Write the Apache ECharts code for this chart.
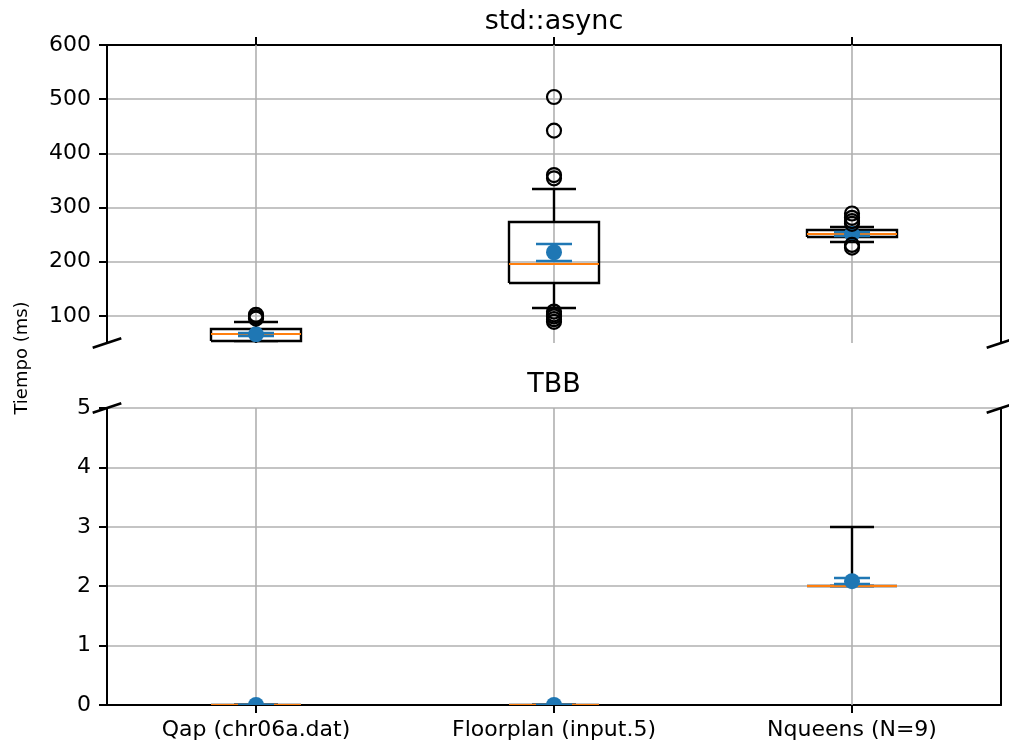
<!DOCTYPE html>
<html>
<head>
<meta charset="utf-8">
<script src="https://cdn.jsdelivr.net/npm/echarts@6/dist/echarts.min.js"></script>
<style>
html, body { margin: 0; padding: 0; background: #fff; }
#chart { width: 1009px; height: 749px; }
</style>
</head>
<body>
<div id="chart"></div>
<script>
// Benchmarks
const categories = ['Qap (chr06a.dat)', 'Floorplan (input.5)', 'Nqueens (N=9)'];

// std::async run times (ms): box statistics, mean ± error and outliers
const asyncLow    = [49, 114, 236.5];
const asyncQ1     = [54, 161.5, 246.5];
const asyncMedian = [66, 195.5, 252];
const asyncQ3     = [76, 273, 258.5];
const asyncHigh   = [88, 334, 265];
const asyncMean   = [66, 217.5, 251];
const asyncErr    = [3, 15.7, 4];
const asyncOutliers = [
  [95, 98, 102],
  [504, 442, 360, 354, 108, 103, 99, 94, 89],
  [289, 281, 275, 270, 231, 226]
];

// TBB run times (ms)
const tbbLow    = [0, 0, 2];
const tbbQ1     = [0, 0, 2];
const tbbMedian = [0, 0, 2];
const tbbQ3     = [0, 0, 2];
const tbbHigh   = [0, 0, 3];
const tbbMean   = [0, 0, 2.085];
const tbbErr    = [0, 0, 0.045];
const tbbOutliers = [[], [], []];

// Tick labels
const asyncTicks = [100, 200, 300, 400, 500, 600];
const tbbTicks = [0, 1, 2, 3, 4, 5];

// Layout of the two panels
const LEFT = 107, WIDTH = 894;
const TOP1 = 45, H1 = 298;
const TOP2 = 408, H2 = 297;

const FONT = 'DejaVu Sans';
const BLACK = '#000', BLUE = '#1f77b4', ORANGE = '#ff7f0e', GRIDC = '#b0b0b0';
const CLEAR = 'rgba(0,0,0,0)';
const LW = 2.4;

function boxRows(low, q1, med, q3, high, mean, err) {
  return categories.map((c, i) => [i, low[i], q1[i], med[i], q3[i], high[i], mean[i], err[i]]);
}
function outlierPoints(groups) {
  const pts = [];
  groups.forEach((g, i) => g.forEach(v => pts.push([i, v])));
  return pts;
}

// Snap to whole pixels so strokes stay crisp
const snap = v => Math.round(v);

function renderBox(params, api) {
  const i = api.value(0);
  const band = api.size([1, 0])[0];
  const hw = Math.round(band * 0.15), cw = Math.round(band * 0.075), ew = 18;
  const yOf = v => snap(api.coord([i, v])[1]);
  const x = snap(api.coord([i, api.value(3)])[0]);
  const cs = params.coordSys;
  const yLo = yOf(api.value(1)), yQ1 = yOf(api.value(2)), yMed = yOf(api.value(3));
  const yQ3 = yOf(api.value(4)), yHi = yOf(api.value(5));
  const mean = api.value(6), err = api.value(7);
  const yM = api.coord([i, mean])[1], yEl = yOf(mean - err), yEh = yOf(mean + err);
  const ln = (x1, y1, x2, y2, stroke, w) => ({
    type: 'line', shape: { x1, y1, x2, y2 }, style: { stroke, lineWidth: w, fill: CLEAR }
  });
  return {
    type: 'group',
    children: [
      ln(x, cs.y, x, cs.y + cs.height, GRIDC, 1.6),
      ln(x, yQ1, x, yLo, BLACK, LW),
      ln(x, yQ3, x, yHi, BLACK, LW),
      ln(x - cw, yLo, x + cw, yLo, BLACK, LW),
      ln(x - cw, yHi, x + cw, yHi, BLACK, LW),
      {
        type: 'polyline',
        shape: { points: [[x - hw, yQ1], [x + hw, yQ1], [x + hw, yQ3], [x - hw, yQ3], [x - hw, yQ1]] },
        style: { fill: CLEAR, stroke: BLACK, lineWidth: LW, lineJoin: 'miter' }
      },
      ln(x - hw, yMed, x + hw, yMed, ORANGE, 2.2),
      ln(x, yEl, x, yEh, BLUE, LW),
      ln(x - ew, yEl, x + ew, yEl, BLUE, LW),
      ln(x - ew, yEh, x + ew, yEh, BLUE, LW),
      { type: 'circle', shape: { cx: x, cy: yM, r: 8 }, style: { fill: BLUE, stroke: CLEAR } }
    ]
  };
}

const spine = { show: true, onZero: false, lineStyle: { color: BLACK, width: 2 } };
const tick = { show: true, length: 8, lineStyle: { color: BLACK, width: 2 } };
const gridLine = { show: true, lineStyle: { color: GRIDC, width: 1.6 } };
const tickText = { color: BLACK, fontSize: 22, fontFamily: FONT };

function yAxes(gridIndex, min, max, ticks) {
  return [
    {
      type: 'value', gridIndex, min, max, position: 'left',
      axisLine: spine,
      axisTick: Object.assign({ customValues: ticks }, tick),
      axisLabel: Object.assign({ customValues: ticks, margin: 16 }, tickText),
      splitLine: gridLine
    },
    {
      type: 'value', gridIndex, min, max, position: 'right',
      axisLine: spine, axisTick: { show: false }, axisLabel: { show: false }, splitLine: { show: false }
    }
  ];
}

// Axis-break marks at the gap between the panels
const d = 0.016;
const breakMarks = [];
[[LEFT, TOP1 + H1], [LEFT + WIDTH, TOP1 + H1], [LEFT, TOP2], [LEFT + WIDTH, TOP2]].forEach(([cx, cy]) => {
  breakMarks.push({
    type: 'line',
    shape: { x1: cx - d * WIDTH, y1: cy + d * H1, x2: cx + d * WIDTH, y2: cy - d * H1 },
    style: { stroke: BLACK, lineWidth: 2.6 },
    z: 100
  });
});

const outlierStyle = { color: CLEAR, borderColor: BLACK, borderWidth: 2.2, opacity: 1 };

const chart = echarts.init(document.getElementById('chart'));
chart.setOption({
  animation: false,
  backgroundColor: '#fff',
  grid: [
    { left: LEFT, top: TOP1, width: WIDTH, height: H1 },
    { left: LEFT, top: TOP2, width: WIDTH, height: H2 }
  ],
  xAxis: [
    {
      type: 'category', gridIndex: 0, data: categories, position: 'top', boundaryGap: true,
      axisLine: spine, axisTick: Object.assign({ alignWithLabel: true }, tick),
      axisLabel: { show: false }, splitLine: { show: false }
    },
    {
      type: 'category', gridIndex: 1, data: categories, position: 'bottom', boundaryGap: true,
      axisLine: spine, axisTick: Object.assign({ alignWithLabel: true }, tick),
      axisLabel: Object.assign({ margin: 14 }, tickText), splitLine: { show: false }
    }
  ],
  yAxis: [].concat(yAxes(0, 50, 600, asyncTicks), yAxes(1, 0, 5, tbbTicks)),
  series: [
    {
      name: 'std::async', type: 'custom', xAxisIndex: 0, yAxisIndex: 0, clip: true, z: 2,
      renderItem: renderBox,
      encode: { x: 0, y: [1, 2, 3, 4, 5] },
      data: boxRows(asyncLow, asyncQ1, asyncMedian, asyncQ3, asyncHigh, asyncMean, asyncErr)
    },
    {
      name: 'std::async outliers', type: 'scatter', xAxisIndex: 0, yAxisIndex: 0, z: 3,
      symbol: 'circle', symbolSize: 14, silent: true,
      itemStyle: outlierStyle,
      data: outlierPoints(asyncOutliers)
    },
    {
      name: 'TBB', type: 'custom', xAxisIndex: 1, yAxisIndex: 2, clip: true, z: 2,
      renderItem: renderBox,
      encode: { x: 0, y: [1, 2, 3, 4, 5] },
      data: boxRows(tbbLow, tbbQ1, tbbMedian, tbbQ3, tbbHigh, tbbMean, tbbErr)
    },
    {
      name: 'TBB outliers', type: 'scatter', xAxisIndex: 1, yAxisIndex: 2, z: 3,
      symbol: 'circle', symbolSize: 14, silent: true,
      itemStyle: outlierStyle,
      data: outlierPoints(tbbOutliers)
    }
  ],
  graphic: [
    {
      type: 'text', x: LEFT + WIDTH / 2, y: TOP1 - 23,
      style: { text: 'std::async', fontSize: 27, fontFamily: FONT, fill: BLACK, align: 'center', verticalAlign: 'middle' }
    },
    {
      type: 'text', x: LEFT + WIDTH / 2, y: TOP2 - 23,
      style: { text: 'TBB', fontSize: 27, fontFamily: FONT, fill: BLACK, align: 'center', verticalAlign: 'middle' }
    },
    {
      type: 'text', x: 22, y: 358, rotation: Math.PI / 2,
      style: { text: 'Tiempo (ms)', fontSize: 18, fontFamily: FONT, fill: BLACK, align: 'center', verticalAlign: 'middle' }
    }
  ].concat(breakMarks)
});
</script>
</body>
</html>
